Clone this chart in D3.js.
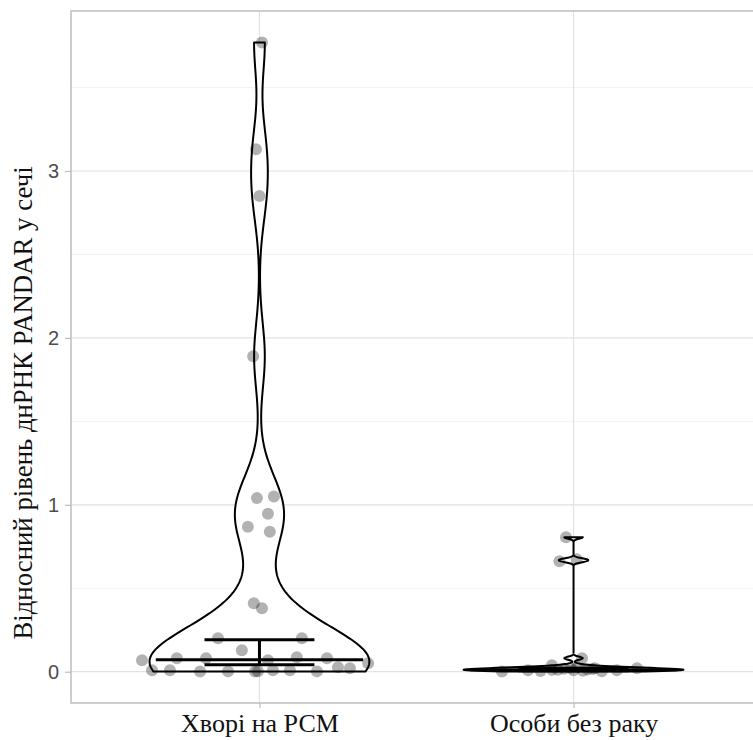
<!DOCTYPE html>
<html>
<head>
<meta charset="utf-8">
<script src="https://cdn.jsdelivr.net/npm/d3@7"></script>
<style>
  html, body { margin: 0; padding: 0; background: #fff; }
  svg { display: block; }
</style>
</head>
<body>
<svg id="chart" width="753" height="740"></svg>
<script>
// Groups on the x axis
const categories = ["Хворі на РСМ", "Особи без раку"];

// Relative PANDAR lncRNA level, patients with renal cell carcinoma
const valuesPatients = [
  3.77, 3.13, 2.85, 1.89, 1.04, 1.05, 0.947, 0.869, 0.839, 0.41, 0.38,
  0.20, 0.20, 0.128,
  0.069, 0.009, 0.009, 0.081, 0.001, 0.081, 0.002, 0.001, 0.003,
  0.069, 0.009, 0.009, 0.087, 0.002, 0.081, 0.027, 0.021, 0.051
];
// horizontal jitter of each patient point, in category units
const jitterPatients = [
  0.008, -0.011, 0.0, -0.02, -0.008, 0.046, 0.027, -0.037, 0.033, -0.018, 0.008,
  -0.132, 0.135, -0.056,
  -0.374, -0.342, -0.285, -0.263, -0.189, -0.170, -0.100, -0.014, -0.005,
  0.027, 0.043, 0.097, 0.119, 0.183, 0.215, 0.250, 0.288, 0.346
];

// Relative level in cancer-free individuals
const valuesControls = [
  0.806, 0.662, 0.674, 0.081, 0.039,
  0.001, 0.009, 0.011, 0.009, 0.021, 0.009, 0.021,
  0.004, 0.018, 0.006, 0.014, 0.003, 0.024, 0.012, 0.027, 0.016
];
const jitterControls = [
  -0.024, -0.045, 0.010, 0.027, -0.069,
  -0.228, -0.145, -0.069, 0.0, 0.068, 0.138, 0.202,
  -0.105, -0.030, 0.030, 0.045, 0.090, -0.010, -0.050, 0.012, 0.060
];

// Median and interval shown for each group
const medians = [0.072, 0.012];
const lowerBounds = [0.042, 0.006];
const upperBounds = [0.192, 0.021];

// Kernel bandwidth of each violin
const bandwidths = [0.2, 0.009];

const yTicks = [0, 1, 2, 3];
const yMinorTicks = [0.5, 1.5, 2.5, 3.5];

const groups = [
  { values: valuesPatients, jitter: jitterPatients },
  { values: valuesControls, jitter: jitterControls }
];

// ---- layout ----
const svg = d3.select("#chart");
const panel = { left: 71, top: 11, right: 762, bottom: 703 };

const allValues = valuesPatients.concat(valuesControls);
const [vMin, vMax] = d3.extent(allValues);
const pad = (vMax - vMin) * 0.05;

const x = d3.scaleLinear().domain([0.4, categories.length + 0.6]).range([panel.left, panel.right]);
const y = d3.scaleLinear().domain([vMin - pad, vMax + pad]).range([panel.bottom, panel.top]);

const violinHalf = 0.35;
const medianHalf = 0.33;
const barHalf = 0.175;

// ---- grid ----
const grid = svg.append("g");
grid.selectAll("line.minor").data(yMinorTicks).join("line")
  .attr("x1", panel.left).attr("x2", panel.right)
  .attr("y1", d => y(d)).attr("y2", d => y(d))
  .attr("stroke", "#f0f0f0").attr("stroke-width", 0.9);
grid.selectAll("line.major").data(yTicks).join("line")
  .attr("x1", panel.left).attr("x2", panel.right)
  .attr("y1", d => y(d)).attr("y2", d => y(d))
  .attr("stroke", "#e2e2e2").attr("stroke-width", 1.2);
grid.selectAll("line.vmajor").data(categories).join("line")
  .attr("x1", (d, i) => x(i + 1)).attr("x2", (d, i) => x(i + 1))
  .attr("y1", panel.top).attr("y2", panel.bottom)
  .attr("stroke", "#e2e2e2").attr("stroke-width", 1.2);

// ---- violins (gaussian kernel density, trimmed to the data range) ----
function density(values, bw) {
  const [lo, hi] = d3.extent(values);
  const n = 512;
  const pts = [];
  for (let k = 0; k < n; k++) {
    const t = lo + (hi - lo) * k / (n - 1);
    let s = 0;
    for (const v of values) {
      const u = (t - v) / bw;
      s += Math.exp(-0.5 * u * u);
    }
    pts.push([t, s / (values.length * bw * Math.sqrt(2 * Math.PI))]);
  }
  return pts;
}

const line = d3.line();
groups.forEach((g, i) => {
  const dens = density(g.values, bandwidths[i]);
  const maxD = d3.max(dens, d => d[1]);
  const c = i + 1;
  const right = dens.map(([t, d]) => [x(c + violinHalf * d / maxD), y(t)]);
  const left = dens.slice().reverse().map(([t, d]) => [x(c - violinHalf * d / maxD), y(t)]);
  svg.append("path")
    .attr("d", line(right.concat(left)) + "Z")
    .attr("fill", "#fff")
    .attr("stroke", "#000")
    .attr("stroke-width", 2)
    .attr("stroke-linejoin", "round");
});

// ---- jittered points ----
groups.forEach((g, i) => {
  svg.append("g").selectAll("circle").data(g.values).join("circle")
    .attr("cx", (d, k) => x(i + 1 + g.jitter[k]))
    .attr("cy", d => y(d))
    .attr("r", 6)
    .attr("fill", "#000")
    .attr("fill-opacity", 0.3);
});

// ---- median and interval ----
categories.forEach((c, i) => {
  const g = svg.append("g").attr("stroke", "#000").attr("stroke-width", 3);
  const cx = i + 1;
  g.append("line")
    .attr("x1", x(cx)).attr("x2", x(cx))
    .attr("y1", y(lowerBounds[i])).attr("y2", y(upperBounds[i]));
  [lowerBounds[i], upperBounds[i]].forEach(v => {
    g.append("line")
      .attr("x1", x(cx - barHalf)).attr("x2", x(cx + barHalf))
      .attr("y1", y(v)).attr("y2", y(v));
  });
  g.append("line")
    .attr("x1", x(cx - medianHalf)).attr("x2", x(cx + medianHalf))
    .attr("y1", y(medians[i])).attr("y2", y(medians[i]));
});

// ---- panel border ----
svg.append("rect")
  .attr("x", panel.left).attr("y", panel.top)
  .attr("width", panel.right - panel.left).attr("height", panel.bottom - panel.top)
  .attr("fill", "none").attr("stroke", "#bdbdbd").attr("stroke-width", 1.5);

// ---- axes ----
const yAxis = svg.append("g")
  .attr("transform", `translate(${panel.left},0)`)
  .call(d3.axisLeft(y).tickValues(yTicks).tickFormat(d3.format("d")).tickSize(6).tickPadding(6));
yAxis.select(".domain").remove();
yAxis.selectAll(".tick line").attr("stroke", "#bdbdbd").attr("stroke-width", 1.2);
yAxis.selectAll(".tick text")
  .attr("fill", "#4d4d4d")
  .style("font-family", "'Liberation Sans', Arial, sans-serif")
  .style("font-size", "20px");

const xAxis = svg.append("g")
  .attr("transform", `translate(0,${panel.bottom})`)
  .call(d3.axisBottom(x).tickValues(categories.map((c, i) => i + 1))
    .tickFormat((d) => categories[d - 1]).tickSize(5).tickPadding(6));
xAxis.select(".domain").remove();
xAxis.selectAll(".tick line").attr("stroke", "#bdbdbd").attr("stroke-width", 1.2);
xAxis.selectAll(".tick text")
  .attr("fill", "#111")
  .style("font-family", "'Liberation Serif', 'Times New Roman', serif")
  .style("font-size", "26px");

svg.append("text")
  .attr("transform", `translate(32,403) rotate(-90)`)
  .attr("text-anchor", "middle")
  .attr("fill", "#111")
  .style("font-family", "'Liberation Serif', 'Times New Roman', serif")
  .style("font-size", "26.8px")
  .text("Відносний рівень днРНК PANDAR у сечі");
</script>
</body>
</html>
